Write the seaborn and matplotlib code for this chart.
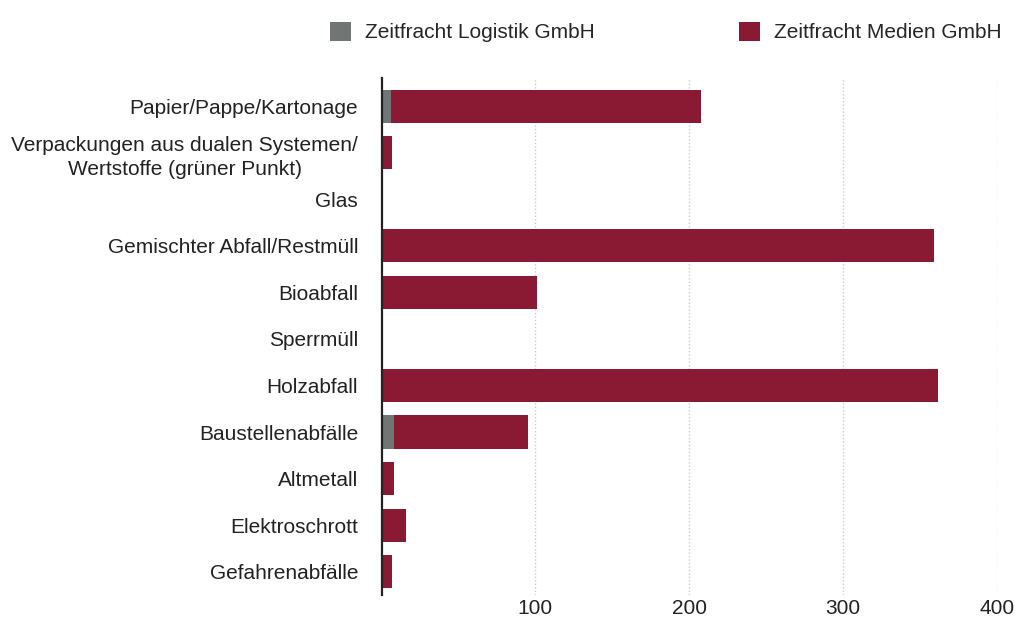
import matplotlib
matplotlib.use("Agg")
import matplotlib.pyplot as plt
import seaborn as sns
import pandas as pd
from matplotlib.patches import Patch

categories = [
    "Papier/Pappe/Kartonage",
    "Verpackungen aus dualen Systemen/\nWertstoffe (grüner Punkt)",
    "Glas",
    "Gemischter Abfall/Restmüll",
    "Bioabfall",
    "Sperrmüll",
    "Holzabfall",
    "Baustellenabfälle",
    "Altmetall",
    "Elektroschrott",
    "Gefahrenabfälle",
]
logistik = [6, 0, 0, 1, 0, 0, 0, 8, 0, 0, 0]
medien = [202, 7, 0, 358, 101, 0, 362, 87, 8, 16, 7]

series_names = ["Zeitfracht Logistik GmbH", "Zeitfracht Medien GmbH"]
colors = ["#6f7674", "#8a1a33"]
xticks = [100, 200, 300, 400]

totals = [a + b for a, b in zip(logistik, medien)]
df = pd.DataFrame({"cat": categories, "logistik": logistik, "total": totals})

sns.set_theme(style="white")
plt.rcParams["font.family"] = ["Liberation Sans", "DejaVu Sans"]

fig = plt.figure(figsize=(10.15, 6.25), dpi=100)
ax = fig.add_axes([0.376, 0.048, 0.606, 0.827])

sns.barplot(data=df, y="cat", x="total", color=colors[1], orient="h",
            width=0.71, ax=ax, saturation=1, linewidth=0)
sns.barplot(data=df, y="cat", x="logistik", color=colors[0], orient="h",
            width=0.71, ax=ax, saturation=1, linewidth=0)

ax.set_xlim(0, 400)
ax.set_ylim(10.5, -0.6)
ax.set_xlabel("")
ax.set_ylabel("")
ax.set_xticks(xticks)
ax.set_xticklabels([str(t) for t in xticks], fontsize=15, color="#222222")
ax.tick_params(axis="y", labelsize=15, labelcolor="#222222", length=0, pad=17)
ax.tick_params(axis="x", length=0, pad=3)
for lbl in ax.get_yticklabels():
    lbl.set_multialignment("center")
    lbl.set_linespacing(1.35)
ax.xaxis.grid(True, linestyle=(0, (1, 1.5)), color="#cccccc", linewidth=1)
ax.set_axisbelow(True)
for s in ["top", "right", "bottom"]:
    ax.spines[s].set_visible(False)
ax.spines["left"].set_color("#222222")
ax.spines["left"].set_linewidth(1.6)

handles = [Patch(facecolor=c, edgecolor="none") for c in colors]
fig.legend(handles, series_names, loc="upper center", bbox_to_anchor=(0.656, 0.995),
           ncol=2, frameon=False, fontsize=15, handlelength=1.0, handleheight=1.0,
           columnspacing=6.9, handletextpad=0.7)

fig.savefig("out.png", dpi=100)
